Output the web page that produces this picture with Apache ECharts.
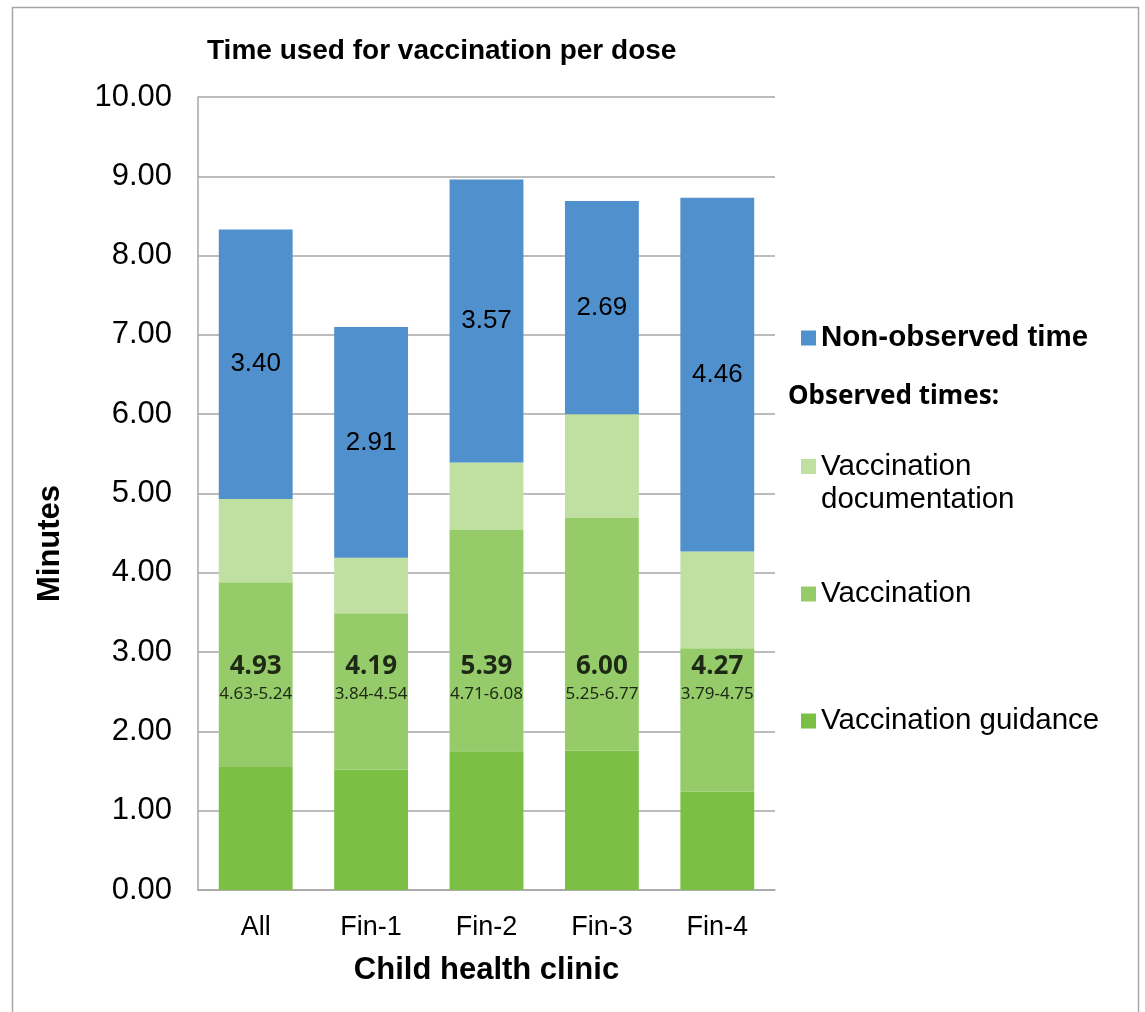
<!DOCTYPE html>
<html>
<head>
<meta charset="utf-8">
<title>Time used for vaccination per dose</title>
<script src="https://cdn.jsdelivr.net/npm/echarts@6/dist/echarts.min.js"></script>
<style>
  html, body { margin: 0; padding: 0; background: #fff; }
  #chart { width: 1145px; height: 1012px; }
</style>
</head>
<body>
<div id="chart"></div>
<script>
// clinics
const clinics = ['All', 'Fin-1', 'Fin-2', 'Fin-3', 'Fin-4']
// stacked segments, minutes per dose (bottom -> top)
const guidance = [1.55, 1.52, 1.75, 1.76, 1.24]
const vaccination = [2.33, 1.97, 2.79, 2.93, 1.81]
const documentation = [1.05, 0.70, 0.85, 1.31, 1.22]
const nonObserved = [3.40, 2.91, 3.57, 2.69, 4.46]
// observed total and its interval, written inside the green part
const observedTotal = [4.93, 4.19, 5.39, 6.00, 4.27]
const observedCI = ['4.63-5.24', '3.84-4.54', '4.71-6.08', '5.25-6.77', '3.79-4.75']
const yTicks = [0, 1, 2, 3, 4, 5, 6, 7, 8, 9, 10]

const arial = 'Liberation Sans, Arial, sans-serif'
const noto = 'Noto Sans, sans-serif'
const labelLevel = 2.64 // height where the observed totals are written

const myChart = echarts.init(document.getElementById('chart'))

const option = {
  animation: false,
  title: {
    text: 'Time used for vaccination per dose',
    left: 207,
    top: 37,
    padding: 0,
    textStyle: { fontFamily: arial, fontWeight: 'bold', fontSize: 28, color: '#000' }
  },
  grid: { left: 198, right: 370, top: 97, bottom: 122 },
  legend: [
    {
      data: ['Non-observed time'],
      left: 801,
      top: 322,
      padding: 0,
      itemWidth: 15,
      itemHeight: 15,
      icon: 'rect',
      textStyle: { fontFamily: arial, fontWeight: 'bold', fontSize: 29.5, lineHeight: 32, color: '#000' }
    },
    {
      data: ['Vaccination documentation'],
      left: 801,
      top: 417,
      padding: 0,
      itemWidth: 15,
      itemHeight: 15,
      icon: 'rect',
      // blank first line so the square sits next to the first text line
      formatter: ' \nVaccination\ndocumentation',
      textStyle: { fontFamily: arial, fontSize: 29.5, lineHeight: 33, color: '#000' }
    },
    {
      data: ['Vaccination'],
      left: 801,
      top: 578,
      padding: 0,
      itemWidth: 15,
      itemHeight: 15,
      icon: 'rect',
      textStyle: { fontFamily: arial, fontSize: 29.5, lineHeight: 32, color: '#000' }
    },
    {
      data: ['Vaccination guidance'],
      left: 801,
      top: 705,
      padding: 0,
      itemWidth: 15,
      itemHeight: 15,
      icon: 'rect',
      textStyle: { fontFamily: arial, fontSize: 29.5, lineHeight: 32, color: '#000' }
    }
  ],
  graphic: [
    {
      type: 'rect',
      silent: true,
      shape: { x: 12.5, y: 7.5, width: 1126, height: 1030 },
      style: { fill: 'none', stroke: '#a6a6a6', lineWidth: 1.5 }
    },
    {
      type: 'text',
      left: 788,
      top: 384,
      style: { text: 'Observed times:', fontFamily: noto, fontWeight: 'bold', fontSize: 26, fill: '#000' }
    }
  ],
  xAxis: {
    type: 'category',
    data: clinics,
    name: 'Child health clinic',
    nameLocation: 'middle',
    nameGap: 65,
    nameTextStyle: { fontFamily: arial, fontWeight: 'bold', fontSize: 31, color: '#000' },
    axisLine: { lineStyle: { color: '#a6a6a6', width: 1.5 } },
    axisTick: { show: false },
    axisLabel: { fontFamily: arial, fontSize: 27, color: '#000', margin: 24 }
  },
  yAxis: {
    type: 'value',
    min: yTicks[0],
    max: yTicks[yTicks.length - 1],
    interval: 1,
    name: 'Minutes',
    nameLocation: 'middle',
    nameGap: 132,
    nameRotate: 90,
    nameTextStyle: {
      fontFamily: arial,
      fontWeight: 'bold',
      fontSize: 31,
      color: '#000',
      padding: [0, 100, 0, 0]
    },
    axisLine: { show: true, lineStyle: { color: '#a6a6a6', width: 1.5 } },
    axisTick: { show: false },
    splitLine: { lineStyle: { color: '#a6a6a6', width: 1.5 } },
    axisLabel: {
      fontFamily: arial,
      fontSize: 31,
      color: '#000',
      margin: 26,
      formatter: v => v.toFixed(2)
    }
  },
  series: [
    {
      name: 'Vaccination guidance',
      type: 'bar',
      stack: 'time',
      barWidth: '64%',
      itemStyle: { color: '#7bbf45' },
      data: guidance
    },
    {
      name: 'Vaccination',
      type: 'bar',
      stack: 'time',
      itemStyle: { color: '#96cb6a' },
      data: vaccination
    },
    {
      name: 'Vaccination documentation',
      type: 'bar',
      stack: 'time',
      itemStyle: { color: '#bfe0a1' },
      data: documentation
    },
    {
      name: 'Non-observed time',
      type: 'bar',
      stack: 'time',
      itemStyle: { color: '#5090cc' },
      label: {
        show: true,
        position: 'inside',
        fontFamily: arial,
        fontSize: 26,
        color: '#000',
        formatter: p => p.value.toFixed(2)
      },
      data: nonObserved
    },
    {
      name: 'observed',
      type: 'scatter',
      symbolSize: 1,
      itemStyle: { color: 'rgba(0,0,0,0)' },
      z: 5,
      label: {
        show: true,
        position: 'inside',
        formatter: p => '{b|' + observedTotal[p.dataIndex].toFixed(2) + '}\n{c|' + observedCI[p.dataIndex] + '}',
        rich: {
          b: { fontFamily: noto, fontWeight: 'bold', fontSize: 26, lineHeight: 28, color: '#000' },
          c: { fontFamily: noto, fontSize: 17, lineHeight: 28, color: '#000' }
        }
      },
      data: clinics.map((c, i) => [i, labelLevel])
    }
  ]
}

myChart.setOption(option)
</script>
</body>
</html>
